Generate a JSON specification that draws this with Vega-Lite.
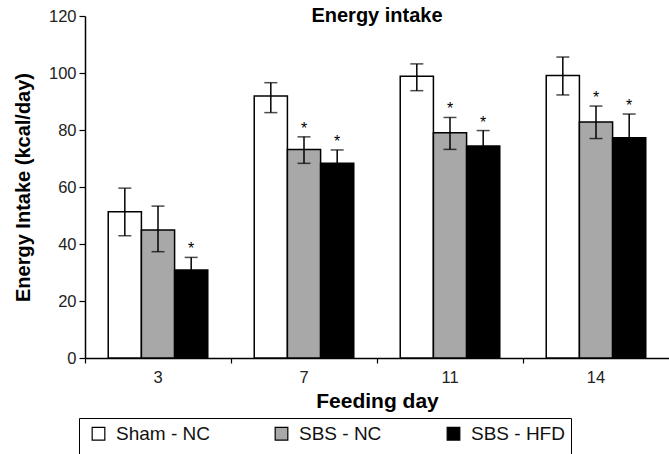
{
  "$schema": "https://vega.github.io/schema/vega-lite/v6.json",
  "autosize": "none",
  "width": 584,
  "height": 342,
  "padding": {"left": 85, "top": 16, "right": 0, "bottom": 96},
  "background": "white",
  "title": {"text": "Energy intake", "font": "Liberation Sans", "fontSize": 20, "fontWeight": "bold", "color": "black", "anchor": "middle", "frame": "group", "offset": -18},
  "data": {"values": [
    {"day": "3", "group": "Sham - NC", "mean": 51.3, "lo": 42.9, "hi": 59.6, "sig": false},
    {"day": "3", "group": "SBS - NC", "mean": 44.9, "lo": 37.3, "hi": 53.3, "sig": false},
    {"day": "3", "group": "SBS - HFD", "mean": 30.9, "lo": 26.5, "hi": 35.3, "sig": true},
    {"day": "7", "group": "Sham - NC", "mean": 91.9, "lo": 86.1, "hi": 96.6, "sig": false},
    {"day": "7", "group": "SBS - NC", "mean": 73.2, "lo": 68.3, "hi": 77.6, "sig": true},
    {"day": "7", "group": "SBS - HFD", "mean": 68.3, "lo": 63.6, "hi": 73.0, "sig": true},
    {"day": "11", "group": "Sham - NC", "mean": 98.9, "lo": 93.8, "hi": 103.2, "sig": false},
    {"day": "11", "group": "SBS - NC", "mean": 79.0, "lo": 73.2, "hi": 84.4, "sig": true},
    {"day": "11", "group": "SBS - HFD", "mean": 74.4, "lo": 69.0, "hi": 79.8, "sig": true},
    {"day": "14", "group": "Sham - NC", "mean": 99.1, "lo": 92.3, "hi": 105.6, "sig": false},
    {"day": "14", "group": "SBS - NC", "mean": 82.8, "lo": 77.0, "hi": 88.4, "sig": true},
    {"day": "14", "group": "SBS - HFD", "mean": 77.3, "lo": 69.0, "hi": 85.6, "sig": true}
  ]},
  "encoding": {
    "x": {"field": "day", "type": "nominal", "sort": ["3", "7", "11", "14"],
      "scale": {"paddingInner": 0, "paddingOuter": 0},
      "axis": {"title": "Feeding day", "labelAngle": 0, "bandPosition": 0, "tickSize": 5, "labelPadding": 6,
        "domainColor": "black", "domainWidth": 1.5, "tickColor": "black", "tickWidth": 1.2,
        "labelFont": "Liberation Sans", "labelFontSize": 16.5, "labelColor": "#222",
        "titleFont": "Liberation Sans", "titleFontSize": 21, "titleFontWeight": "bold", "titleColor": "black", "titlePadding": 5}},
    "xOffset": {"field": "group", "type": "nominal", "sort": ["Sham - NC", "SBS - NC", "SBS - HFD"],
      "scale": {"paddingInner": 0, "paddingOuter": 0.7}}
  },
  "layer": [
    {
      "mark": {"type": "bar", "stroke": "black", "strokeWidth": 1.5},
      "encoding": {
        "y": {"field": "mean", "type": "quantitative",
          "scale": {"domain": [0, 120], "nice": false},
          "axis": {"title": "Energy Intake (kcal/day)", "values": [0, 20, 40, 60, 80, 100, 120], "grid": false,
            "tickSize": 6, "labelPadding": 3, "domainColor": "black", "domainWidth": 1.5, "tickColor": "black", "tickWidth": 1.2,
            "labelFont": "Liberation Sans", "labelFontSize": 16.5, "labelColor": "#222",
            "titleFont": "Liberation Sans", "titleFontSize": 20, "titleFontWeight": "bold", "titleColor": "black", "titlePadding": 15}},
        "fill": {"field": "group", "type": "nominal", "sort": ["Sham - NC", "SBS - NC", "SBS - HFD"],
          "scale": {"domain": ["Sham - NC", "SBS - NC", "SBS - HFD"], "range": ["white", "#a8a8a8", "black"]},
          "legend": {"orient": "none", "legendX": -6, "legendY": 402, "direction": "horizontal",
            "title": " ", "titleOrient": "bottom", "titleFontSize": 10, "titlePadding": 10,
            "symbolType": "square", "symbolSize": 160, "symbolStrokeColor": "black", "symbolStrokeWidth": 1.2, "symbolOffset": 4,
            "labelFont": "Liberation Sans", "labelFontSize": 19, "labelColor": "#111", "labelOffset": 8,
            "columnPadding": 58, "padding": 6, "strokeColor": "black"}}
      }
    },
    {
      "mark": {"type": "rule", "stroke": "black", "strokeWidth": 1.5},
      "encoding": {"y": {"field": "lo", "type": "quantitative"}, "y2": {"field": "hi"}}
    },
    {
      "mark": {"type": "tick", "color": "black", "size": 13, "thickness": 1.5, "orient": "horizontal"},
      "encoding": {"y": {"field": "hi", "type": "quantitative"}}
    },
    {
      "mark": {"type": "tick", "color": "black", "size": 13, "thickness": 1.5, "orient": "horizontal"},
      "encoding": {"y": {"field": "lo", "type": "quantitative"}}
    },
    {
      "transform": [{"filter": "datum.sig"}],
      "mark": {"type": "text", "text": "*", "font": "Liberation Sans", "fontSize": 16, "baseline": "alphabetic", "dy": -3, "color": "black"},
      "encoding": {"y": {"field": "hi", "type": "quantitative"}}
    }
  ],
  "config": {"view": {"stroke": null}}
}
